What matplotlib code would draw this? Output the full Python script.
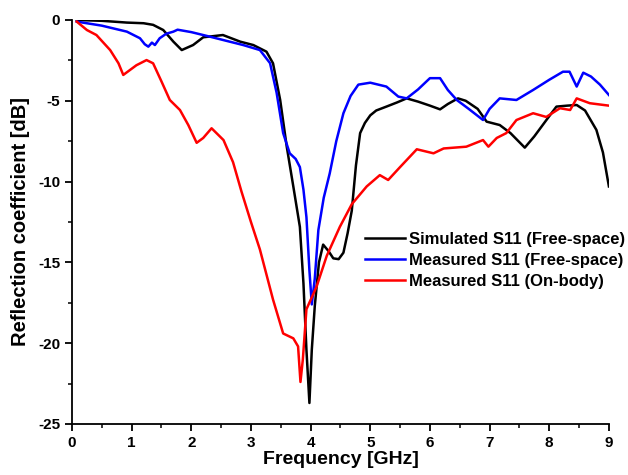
import numpy as np
import matplotlib
matplotlib.use("Agg")
import matplotlib.pyplot as plt
from matplotlib.ticker import MultipleLocator

plt.rcParams['font.family'] = ['Liberation Sans', 'DejaVu Sans']
plt.rcParams['font.weight'] = 'bold'
plt.rcParams['axes.unicode_minus'] = False

# Simulated S11 (Free-space)
sim_f = [0.08, 0.5, 0.92, 1.2, 1.36, 1.53, 1.7, 1.84, 2.03, 2.2, 2.53, 2.82, 3.04, 3.26,
         3.37, 3.49, 3.6, 3.71, 3.82, 3.88, 3.93, 3.98, 4.02, 4.07, 4.14, 4.21, 4.3,
         4.38, 4.47, 4.55, 4.62, 4.69, 4.76, 4.83, 4.91, 5.0, 5.1, 5.27, 5.45, 5.61, 5.8,
         6.0, 6.17, 6.3, 6.47, 6.6, 6.8, 6.95, 7.17, 7.35, 7.59, 7.75, 7.95, 8.12,
         8.3, 8.46, 8.6, 8.79, 8.9, 9.0]
sim_s11 = [0.0, -0.05, -0.16, -0.2, -0.3, -0.62, -1.34, -1.86, -1.55, -1.07, -0.93, -1.34,
           -1.55, -1.96, -2.68, -4.95, -7.84, -10.3, -12.8, -16.3, -20.4, -23.7, -20.4,
           -17.7, -15.0, -13.9, -14.3, -14.75, -14.8, -14.4, -13.2, -11.8, -9.0, -7.0,
           -6.37, -5.9, -5.6, -5.36, -5.1, -4.85, -5.05, -5.3, -5.53, -5.2, -4.85, -5.0,
           -5.5, -6.29, -6.5, -7.0, -7.9, -7.2, -6.2, -5.36, -5.3, -5.26, -5.6, -6.8,
           -8.2, -10.3]

# Measured S11 (Free-space)
meas_f = [0.08, 0.5, 0.92, 1.14, 1.22, 1.28, 1.34, 1.39, 1.47, 1.58, 1.7, 1.77, 2.0,
          2.31, 2.6, 2.87, 3.15, 3.32, 3.43, 3.54, 3.65, 3.75, 3.82, 3.88, 3.93, 3.98,
          4.02, 4.07, 4.13, 4.22, 4.32, 4.43, 4.55, 4.67, 4.8, 5.0, 5.27, 5.47, 5.61,
          5.8, 6.0, 6.17, 6.3, 6.45, 6.65, 6.89, 7.0, 7.17, 7.45, 7.73, 8.0, 8.23, 8.34,
          8.46, 8.57, 8.7, 8.85, 9.0]
meas_s11 = [-0.1, -0.35, -0.72, -1.13, -1.5, -1.65, -1.4, -1.55, -1.13, -0.85, -0.72,
            -0.6, -0.75, -1.03, -1.3, -1.55, -1.86, -2.67, -4.5, -7.0, -8.25, -8.6,
            -9.1, -10.5, -12.2, -15.5, -17.6, -16.0, -13.0, -11.0, -9.5, -7.5, -5.77,
            -4.7, -4.0, -3.88, -4.12, -4.74, -4.85, -4.3, -3.6, -3.6, -4.33, -4.95,
            -5.5, -6.19, -5.5, -4.85, -4.95, -4.33, -3.7, -3.2, -3.2, -4.12, -3.26,
            -3.5, -4.0, -4.64]

# Measured S11 (On-body)
body_f = [0.08, 0.25, 0.41, 0.64, 0.78, 0.86, 0.97, 1.08, 1.25, 1.36, 1.5, 1.64, 1.81,
          1.95, 2.09, 2.2, 2.34, 2.54, 2.7, 2.84, 3.0, 3.15, 3.37, 3.54, 3.71, 3.79,
          3.83, 3.87, 3.93, 4.1, 4.27, 4.49, 4.69, 4.94, 5.16, 5.3, 5.5, 5.78, 6.06,
          6.23, 6.61, 6.89, 6.98, 7.12, 7.28, 7.45, 7.73, 7.95, 8.18, 8.35, 8.46, 8.68,
          9.0]
body_s11 = [-0.1, -0.62, -0.93, -1.86, -2.68, -3.4, -3.1, -2.8, -2.48, -2.68, -3.8,
            -4.95, -5.57, -6.5, -7.6, -7.3, -6.7, -7.43, -8.8, -10.6, -12.5, -14.2,
            -17.3, -19.4, -19.7, -20.2, -22.4, -21.0, -17.9, -16.5, -14.6, -12.8,
            -11.4, -10.3, -9.6, -9.9, -9.1, -8.0, -8.25, -7.95, -7.84, -7.43, -7.84,
            -7.3, -7.0, -6.19, -5.77, -6.0, -5.46, -5.57, -4.85, -5.15, -5.3]

fig = plt.figure(figsize=(6.28, 4.75), dpi=100)
ax = fig.add_axes([0.1146, 0.1074, 0.855, 0.8505])

ax.plot(sim_f, sim_s11, color='black', lw=1.8, label='Simulated S11 (Free-space)')
ax.plot(meas_f, meas_s11, color='blue', lw=1.8, label='Measured S11 (Free-space)')
ax.plot(body_f, body_s11, color='red', lw=1.8, label='Measured S11 (On-body)')

ax.set_xlim(0, 9)
ax.set_ylim(-25, 0)
ax.xaxis.set_major_locator(MultipleLocator(1))
ax.xaxis.set_minor_locator(MultipleLocator(0.5))
ax.yaxis.set_major_locator(MultipleLocator(5))
ax.yaxis.set_minor_locator(MultipleLocator(2.5))
ax.spines['top'].set_visible(False)
ax.spines['right'].set_visible(False)
ax.spines['left'].set_linewidth(1.3)
ax.spines['bottom'].set_linewidth(1.3)
ax.tick_params(which='major', direction='out', length=5, width=1.3, labelsize=11)
ax.tick_params(which='minor', direction='out', length=3, width=1.1)
for lbl in ax.get_xticklabels() + ax.get_yticklabels():
    lbl.set_fontweight('bold')

ax.set_xlabel('Frequency [GHz]', fontsize=14, fontweight='bold', labelpad=1)
ax.set_ylabel('Reflection coefficient [dB]', fontsize=14.5, fontweight='bold', labelpad=6)

leg = fig.legend(handles=ax.get_lines(), loc='upper left',
                 bbox_to_anchor=(365 / 628, 1 - 232 / 475), frameon=False,
                 borderpad=0, borderaxespad=0,
                 handlelength=2.4, handletextpad=0.25, labelspacing=0.35,
                 prop={'weight': 'bold', 'size': 12})

plt.savefig('out.png', dpi=100)
